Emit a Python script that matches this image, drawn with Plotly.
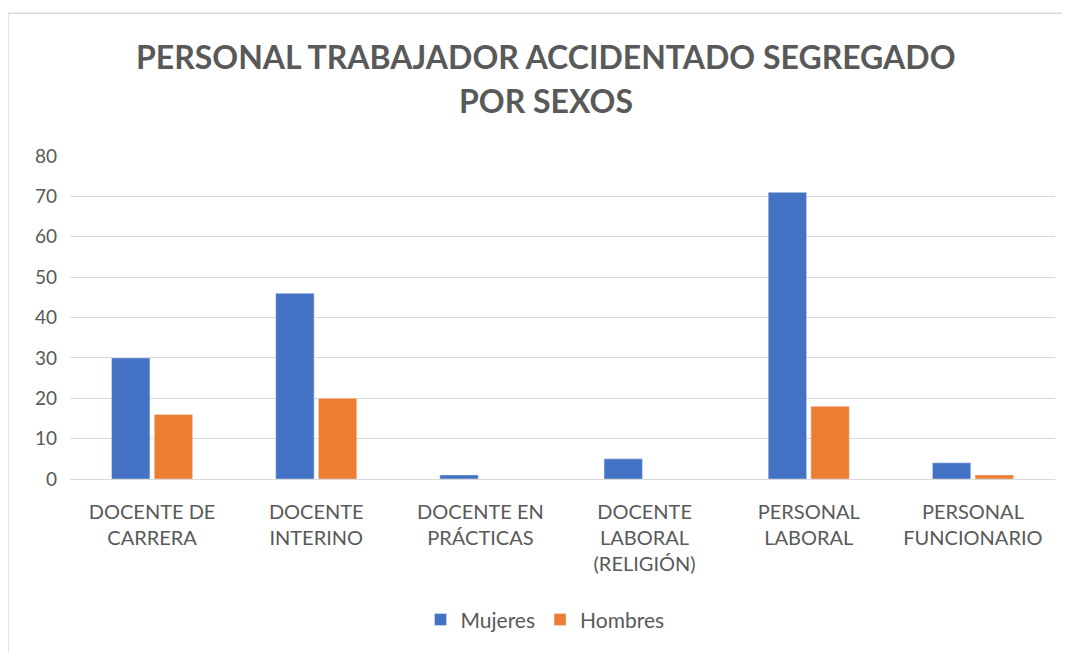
import plotly.graph_objects as go

categories = ["DOCENTE DE<br>CARRERA", "DOCENTE<br>INTERINO", "DOCENTE EN<br>PRÁCTICAS",
              "DOCENTE<br>LABORAL<br>(RELIGIÓN)", "PERSONAL<br>LABORAL", "PERSONAL<br>FUNCIONARIO"]
mujeres = [30, 46, 1, 5, 71, 4]
hombres = [16, 20, 0, 0, 18, 1]
y_ticks = [0, 10, 20, 30, 40, 50, 60, 70, 80]
title_lines = ["PERSONAL TRABAJADOR ACCIDENTADO SEGREGADO", "POR SEXOS"]

# page body has an 8px margin; work in figure coordinates
W, H = 1062, 644
L, R, T, B = 62, 15, 148, 168
pw = W - L - R
ph = H - T - B

def px_x(x):
    return (x - L) / pw

def px_y(y):
    return (H - B - y) / ph

fig = go.Figure()
fig.add_trace(go.Bar(name="Mujeres", x=categories, y=mujeres, marker_color="#4472C4"))
fig.add_trace(go.Bar(name="Hombres", x=categories, y=hombres, marker_color="#ED7D31"))

title_font = dict(family="Lato, sans-serif", size=32, color="#595959", weight="bold")
annotations = [
    dict(text=title_lines[0], xref="paper", yref="paper", x=px_x(538), y=px_y(47),
         xanchor="center", yanchor="middle", showarrow=False, font=title_font),
    dict(text=title_lines[1], xref="paper", yref="paper", x=px_x(538), y=px_y(92),
         xanchor="center", yanchor="middle", showarrow=False, font=title_font),
]

fig.update_layout(
    width=W, height=H,
    margin=dict(l=L, r=R, t=T, b=B),
    paper_bgcolor="white", plot_bgcolor="white",
    font=dict(family="Lato, Open Sans, sans-serif", color="#595959", size=19),
    barmode="group", bargap=0.48, bargroupgap=0.1,
    annotations=annotations,
    showlegend=True,
    legend=dict(orientation="h", x=px_x(537), xanchor="center", y=px_y(619), yanchor="middle",
                font=dict(size=21, color="#595959"), itemwidth=30, traceorder="normal"),
    xaxis=dict(showgrid=False, showline=False, ticks="", ticklabelstandoff=19,
               tickfont=dict(size=20, color="#595959")),
    yaxis=dict(range=[0, 80], tickvals=y_ticks, showgrid=True, gridcolor="#D9D9D9", gridwidth=1,
               zeroline=True, zerolinecolor="#D9D9D9", zerolinewidth=1, showline=False,
               ticks="", ticklabelstandoff=12, tickfont=dict(size=19, color="#595959")),
    shapes=[dict(type="rect", xref="paper", yref="paper",
                 x0=px_x(0), x1=px_x(1080), y0=px_y(670), y1=px_y(3),
                 line=dict(color="#D9D9D9", width=1.5), fillcolor="rgba(0,0,0,0)", layer="below")],
)

fig.write_html("out.html")
